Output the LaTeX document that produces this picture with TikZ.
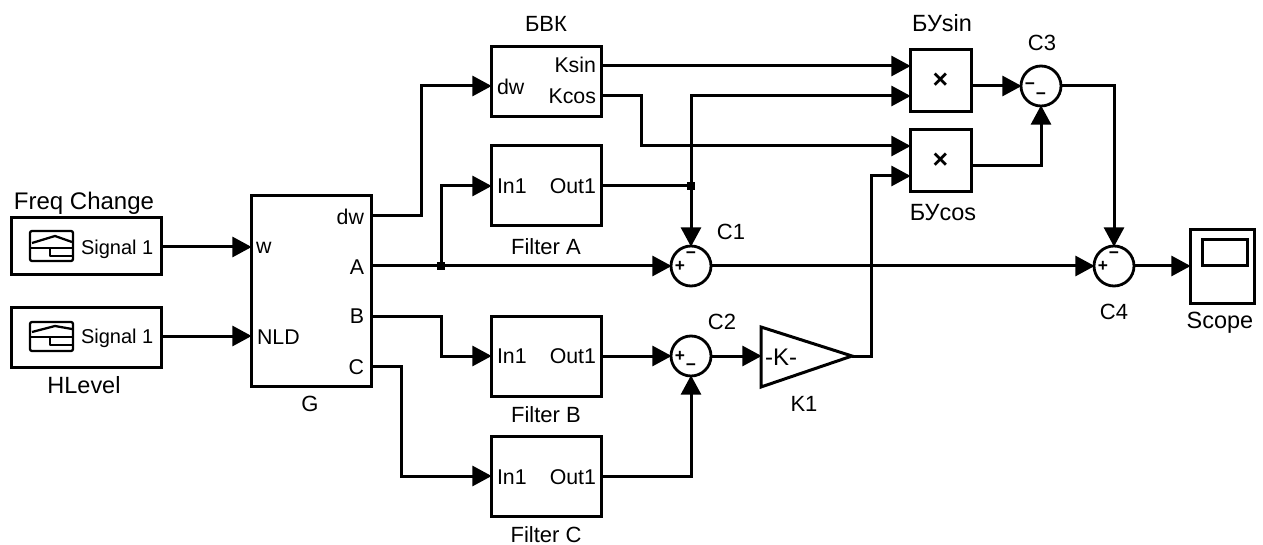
\documentclass[tikz,border=0pt]{standalone}
\usepackage{fontspec}
\setmainfont{Liberation Sans}
\usetikzlibrary{arrows.meta}
\newcommand{\blk}[6]{\node[block,minimum width={(#4-#2)*0.75pt},minimum height={(#5-#3)*0.75pt}] (#1) at ({(#2+#4)/2},{(#3+#5)/2}) {#6};}
\tikzset{
  x=0.75pt,y=-0.75pt,
  every node/.style={font=\fontsize{16.5}{18}\selectfont,inner sep=0pt,outer sep=0pt},
  biglabel/.style={font=\fontsize{17.6}{19}\selectfont},
  block/.style={draw,line width=2.25pt,fill=white},
  sumnode/.style={circle,draw,line width=2.1pt,fill=white,minimum size=30pt},
  sign/.style={font=\fontsize{13}{13}\bfseries\selectfont},
  port/.style={font=\fontsize{16}{17}\selectfont},
  sigtext/.style={font=\fontsize{15}{16}\selectfont},
  conn/.style={line width=2.25pt},
  flow/.style={conn,-{Triangle[length=14.5pt,width=15pt]},shorten >=-0.5pt},
  icon/.style={line width=1.7pt,line join=round},
  dot/.style={rectangle,fill=black,minimum size=5.5pt},
}
\begin{document}
\begin{tikzpicture}
\useasboundingbox (0,0) rectangle (1263,545);
\fill[white] (0,0) rectangle (1263,545);
% blocks
\blk{fc}{11}{218}{161}{275}{}
\blk{hl}{11}{307}{161}{367}{}
\blk{g}{251}{196}{371}{386}{}
\blk{bvk}{491}{47}{601}{117}{}
\blk{fa}{491}{146}{601}{226}{}
\blk{fb}{491}{316}{601}{396}{}
\blk{fc2}{491}{436}{601}{516}{}
\blk{bs}{910}{50}{971}{112}{\fontsize{20}{20}\bfseries\selectfont ×}
\blk{bc}{910}{130}{971}{192}{\fontsize{20}{20}\bfseries\selectfont ×}
\blk{sc}{1190}{230}{1254}{303}{}
\blk{scr}{1202}{240}{1247}{266}{}
\node[sumnode] (c1) at (691,266) {};
\node[sumnode] (c2) at (691,356) {};
\node[sumnode] (c3) at (1041,86) {};
\node[sumnode] (c4) at (1114,266) {};
\draw[block] (761,327) -- (852,356) -- (761,387) -- cycle;
\node[font=\fontsize{18}{18}\selectfont] (k) at (781,357) {-K-};
% signs
\node[sign] (s1a) at (680,266.5) {+};
\node[sign] (s1b) at (691,255) {−};
\node[sign] (s2a) at (680,356) {+};
\node[sign] (s2b) at (691,367) {−};
\node[sign] (s3a) at (1030,86) {−};
\node[sign] (s3b) at (1041,96) {−};
\node[sign] (s4a) at (1103,266.5) {+};
\node[sign] (s4b) at (1114,255) {−};
% icons
\draw[icon,rounded corners=1.5pt] (30,231) rectangle (73,261);
\draw[icon] (32,243) -- (55,236) -- (72,242);
\draw[icon] (31,248) -- (72,248);
\draw[icon] (50,248) -- (50,256) -- (72,256);
\draw[icon,rounded corners=1.5pt] (30,322) rectangle (73,351);
\draw[icon] (32,332) -- (55,326) -- (72,329);
\draw[icon] (31,337) -- (72,337);
\draw[icon] (50,337) -- (50,345) -- (72,345);
% port labels
\node[sigtext,anchor=west] (t1) at (81,249) {Signal 1};
\node[sigtext,anchor=west] (t2) at (81,338) {Signal 1};
\node[port,anchor=west] (t3) at (256,248) {w};
\node[port,anchor=west] (t4) at (257,337) {NLD};
\node[port,anchor=east] (t5) at (364,217) {dw};
\node[port,anchor=east] (t6) at (364,267) {A};
\node[port,anchor=east] (t7) at (364,316) {B};
\node[port,anchor=east] (t8) at (364,367) {C};
\node[port,anchor=west] (t9) at (497,87) {dw};
\node[port,anchor=east] (t10) at (596,65) {Ksin};
\node[port,anchor=east] (t11) at (596,96) {Kcos};
\node[port,anchor=west] (t12) at (497,186) {In1};
\node[port,anchor=east] (t13) at (596,186) {Out1};
\node[port,anchor=west] (t14) at (497,356) {In1};
\node[port,anchor=east] (t15) at (596,356) {Out1};
\node[port,anchor=west] (t16) at (497,477) {In1};
\node[port,anchor=east] (t17) at (596,477) {Out1};
% block labels
\node[font=\fontsize{18}{19}\selectfont] (l1) at (84,203) {Freq Change};
\node[biglabel] (l2) at (84,385) {HLevel};
\node (l3) at (310,404) {G};
\node (l4) at (546,24) {БВК};
\node (l5) at (546,247) {Filter A};
\node (l6) at (546,415) {Filter B};
\node (l7) at (546,535) {Filter C};
\node[biglabel] (l8) at (942,23) {БУsin};
\node[biglabel] (l9) at (943,213) {БУcos};
\node (l10) at (1042,43) {C3};
\node (l11) at (731,232) {C1};
\node (l12) at (722,322) {C2};
\node (l13) at (804,404) {K1};
\node (l14) at (1114,312) {C4};
\node[biglabel] (l15) at (1220,323) {Scope};
% ports
\coordinate (gw) at (251,247);
\coordinate (gn) at (251,336);
\coordinate (gdw) at (371,216);
\coordinate (ga) at (371,266);
\coordinate (gb) at (371,316);
\coordinate (gc) at (371,366);
\coordinate (bvkin) at (491,86);
\coordinate (ksin) at (601,66);
\coordinate (kcos) at (601,96);
\coordinate (bs1) at (910,66);
\coordinate (bs2) at (910,96);
\coordinate (bsout) at (971,86);
\coordinate (bc1) at (910,146);
\coordinate (bc2) at (910,176);
\coordinate (bcout) at (971,166);
\coordinate (kin) at (761,356);
\coordinate (kout) at (852,356);
\coordinate (scin) at (1190,266);
\coordinate (fcout) at (161,247);
\coordinate (hlout) at (161,336);
\node[dot] (j1) at (441,266) {};
\node[dot] (j2) at (691,186) {};
% connectors
\draw[flow] (fcout) -- (gw);
\draw[flow] (hlout) -- (gn);
\draw[flow] (gdw) -- (421,216) -- (421,86) -- (bvkin);
\draw[flow] (ga) -- (c1.west);
\draw[flow] (j1.center) -- (441,186) -- (fa.west);
\draw[flow] (gb) -- (441,316) -- (441,356) -- (fb.west);
\draw[flow] (gc) -- (401,366) -- (401,476) -- (fc2.west);
\draw[flow] (ksin) -- (bs1);
\draw[flow] (kcos) -- (641,96) -- (641,146) -- (bc1);
\draw[conn] (fa.east) -- (j2.center);
\draw[flow] (j2.center) -- (c1.north);
\draw[flow] (j2.center) -- (691,96) -- (bs2);
\draw[flow] (fb.east) -- (c2.west);
\draw[flow] (fc2.east) -- (691,476) -- (c2.south);
\draw[flow] (c2.east) -- (kin);
\draw[flow] (kout) -- (871,356) -- (871,176) -- (bc2);
\draw[flow] (bsout) -- (c3.west);
\draw[flow] (bcout) -- (1041,166) -- (c3.south);
\draw[flow] (c3.east) -- (1114,86) -- (c4.north);
\draw[flow] (c1.east) -- (c4.west);
\draw[flow] (c4.east) -- (scin);
\end{tikzpicture}
\end{document}
